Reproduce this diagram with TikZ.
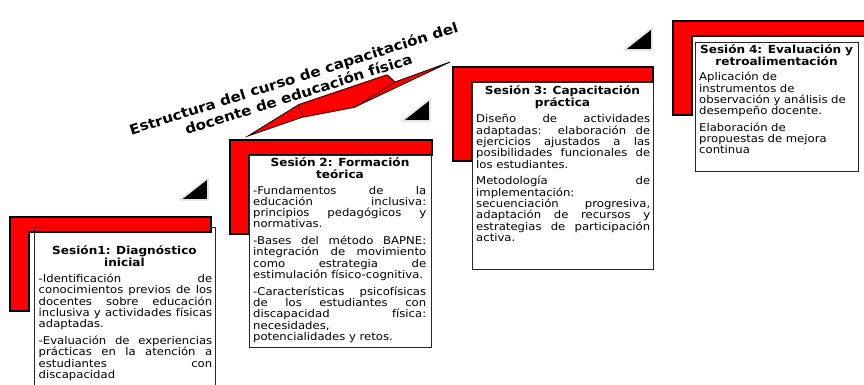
\documentclass[tikz,border=0pt]{standalone}
\usepackage{fontspec}
\setmainfont{DejaVu Sans}[FakeStretch=1.09]
\usetikzlibrary{positioning}
\tolerance=10000 \hyphenpenalty=10000 \exhyphenpenalty=10000 \hbadness=10000
\newcommand{\redcorner}[3]{\draw[corner](#1,#2)--(#3,#2)--(#3,#2-15)--(#1+19,#2-15)--(#1+19,#2-94)--(#1,#2-94)--cycle;}
\newcommand{\marktri}[2]{\draw[marker](#1-28,#2)--(#1,#2+22)--(#1,#2)--cycle;}
\newcommand{\nextpar}{\par\vspace{5.4pt}}
\begin{document}
\begin{tikzpicture}[x=1pt, y=1pt,
  corner/.style={fill=red, draw=black, line width=1.5pt},
  sesbox/.style={draw=black!85, line width=0.8pt},
  marker/.style={fill=black, draw=gray!20, line width=1.6pt, line join=round},
  sestitle/.style={anchor=base, inner sep=0pt, align=center, text width=178pt, font=\fontsize{11.1}{12.3}\selectfont\bfseries},
  sesbody/.style={anchor=base west, inner sep=0pt, align=justify, font=\fontsize{10.7}{11.3}\selectfont},
  heading/.style={inner sep=0pt, align=center, font=\fontsize{13.9}{16.5}\selectfont\bfseries}]
\fill[white](0,0)rectangle(864,-385);
\useasboundingbox(0,0)rectangle(864,-385);
\clip(0,0)rectangle(864,-385);
\redcorner{10}{-217}{211}
\redcorner{230}{-140}{432}
\redcorner{453}{-67}{653}
\redcorner{673}{-21}{872}
\draw[sesbox](34,-227)rectangle(215,-400);
\draw[sesbox](249,-155)rectangle(431,-347);
\draw[sesbox](472,-82)rectangle(653,-269);
\draw[sesbox](695,-42)rectangle(858,-171);
\marktri{208}{-200}
\marktri{430}{-121}
\marktri{652}{-50}
\draw[fill=red, draw=black, line width=0.8pt](248,-136)--(298,-105)--(387,-75)--(395,-82)--(450,-62)--(355,-107)--(303,-117)--cycle;
\draw[fill=red, draw=red!45!black, line width=1.2pt, rounded corners=1pt](298,-105)--(387,-75)--(395,-82)--(355,-107)--(303,-117)--cycle;
\node[heading, rotate=17.5](heading) at (296,-86){Estructura del curso de capacitación del\\docente de educación física};
\node[sestitle](t1) at (124.5,-254.5){Sesión1: Diagnóstico\\inicial};
\node[sesbody, text width=173.5pt](b1) at (38.5,-282.5){-Identificación de\linebreak conocimientos previos de los\linebreak docentes sobre educación\linebreak inclusiva y actividades físicas\linebreak adaptadas.\nextpar
-Evaluación de experiencias\linebreak prácticas en la atención a\linebreak estudiantes con\linebreak discapacidad};
\node[sestitle](t2) at (340,-166){Sesión 2: Formación\\teórica};
\node[sesbody, text width=173pt](b2) at (253,-194){-Fundamentos de la\linebreak educación inclusiva:\linebreak principios pedagógicos y\linebreak normativas.\nextpar
-Bases del método BAPNE:\linebreak integración de movimiento\linebreak como estrategia de\linebreak estimulación físico-cognitiva.\nextpar
-Características psicofísicas\linebreak de los estudiantes con\linebreak discapacidad física:\linebreak necesidades,\linebreak potencialidades y retos.};
\node[sestitle](t3) at (562.5,-94.3){Sesión 3: Capacitación\\práctica};
\node[sesbody, text width=174pt](b3) at (476,-123){Diseño de actividades\linebreak adaptadas: elaboración de\linebreak ejercicios ajustados a las\linebreak posibilidades funcionales de\linebreak los estudiantes.\nextpar
Metodología de\linebreak implementación:\linebreak secuenciación progresiva,\linebreak adaptación de recursos y\linebreak estrategias de participación\linebreak activa.};
\node[sestitle](t4) at (776.5,-53.3){Sesión 4: Evaluación y\\retroalimentación};
\node[sesbody, align=left, text width=157pt](b4) at (699,-80.8){Aplicación de\\instrumentos de\\observación y análisis de\\desempeño docente.\nextpar
Elaboración de\\propuestas de mejora\\continua};
\end{tikzpicture}
\end{document}
